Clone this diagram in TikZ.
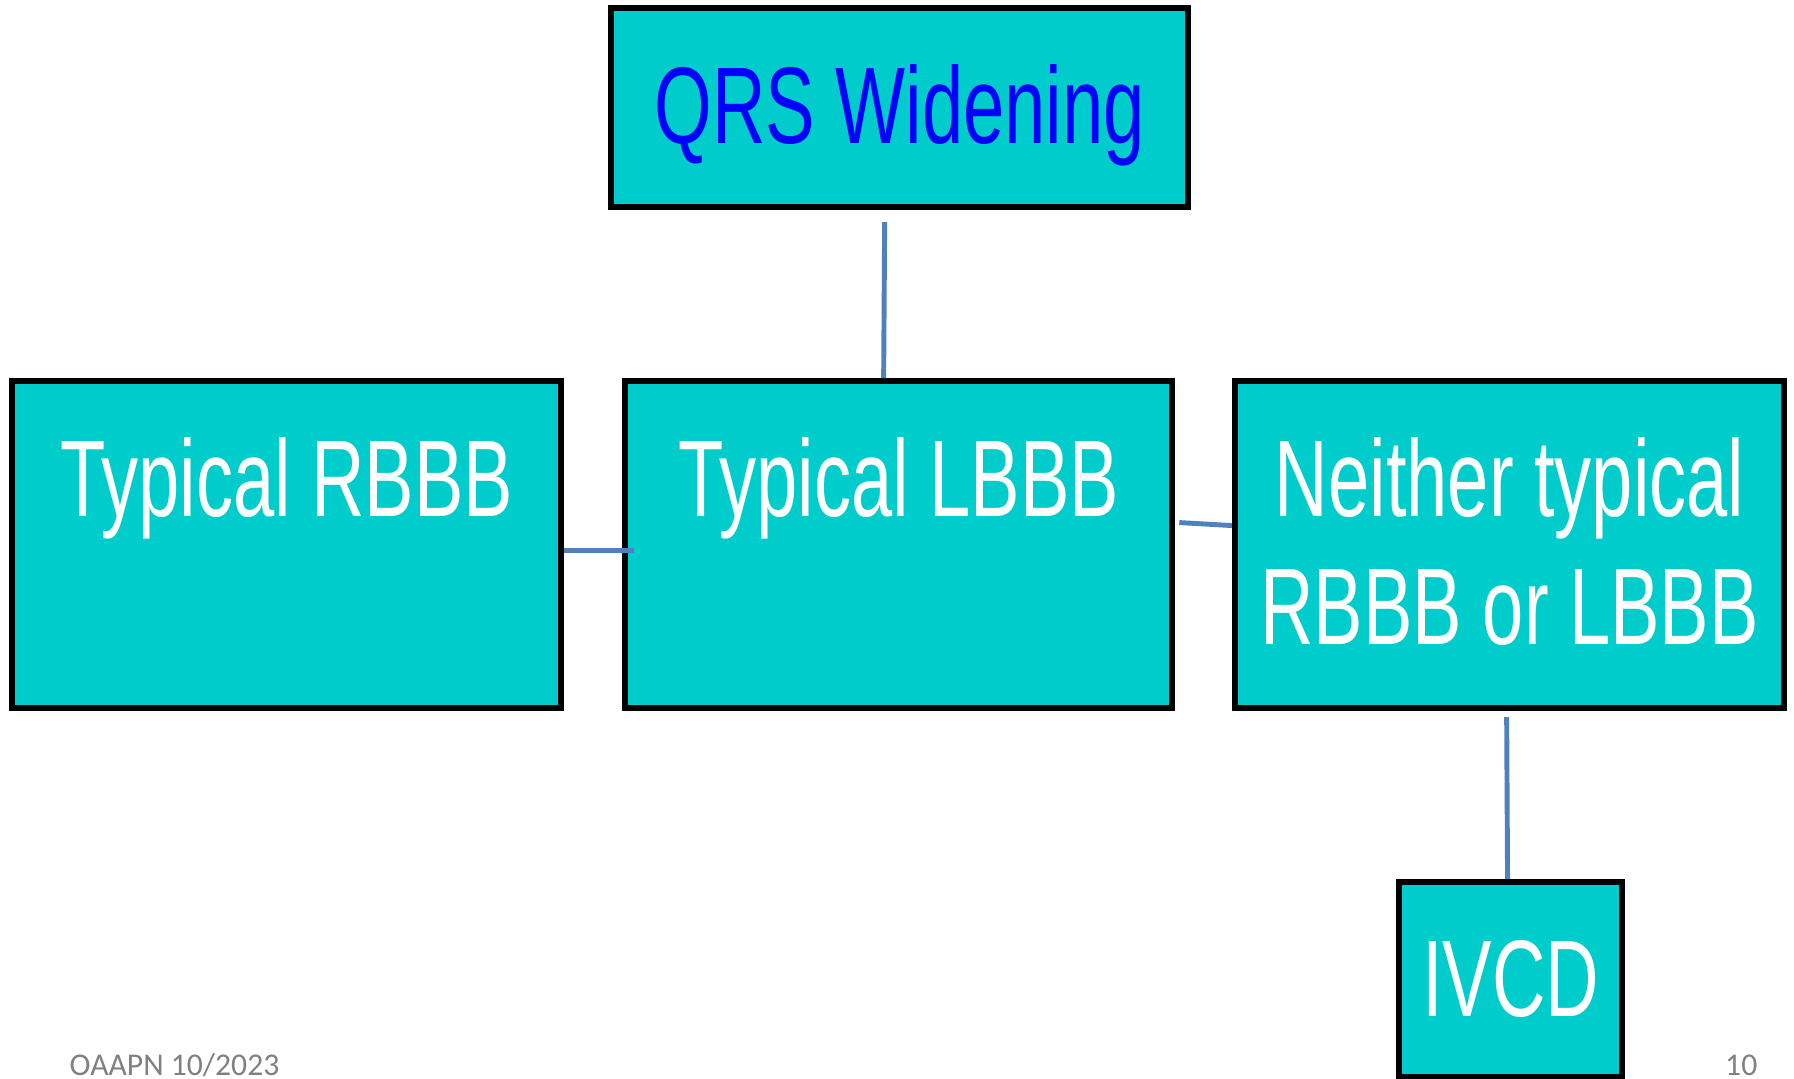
\documentclass[tikz,border=0pt]{standalone}
\usepackage{fontspec}
\setmainfont{Liberation Sans}[FakeStretch=0.68]
\newfontfamily\footfont{Carlito}
\definecolor{boxcyan}{RGB}{0,204,204}
\definecolor{qrsblue}{RGB}{0,0,255}
\definecolor{linkblue}{RGB}{79,129,189}
\definecolor{footgrey}{RGB}{128,128,128}

\begin{document}
\begin{tikzpicture}[x=0.01cm, y=-0.01cm,
    box/.style={draw, line width=1.7pt, fill=boxcyan, inner sep=0pt, anchor=north west,
        text=white, align=center, font=\fontsize{31}{36.4}\selectfont},
    link/.style={draw=linkblue, line width=1.4pt},
    foot/.style={text=footgrey, inner sep=0pt, font=\footfont\fontsize{9}{11}\selectfont}]
    \useasboundingbox (0, 0) rectangle (1794, 1079);

    \node[box, text=qrsblue, minimum width=5.77cm, text height=1.35cm, text depth=0.64cm]
    (qrs) at (608, 5) {QRS Widening};
    \node[box, minimum width=5.49cm, text height=1.35cm, text depth=1.92cm]
    (rbbb) at (9, 378) {Typical RBBB};
    \node[box, minimum width=5.47cm, text height=1.35cm, text depth=1.92cm]
    (lbbb) at (622, 378) {Typical LBBB};
    \node[box, minimum width=5.49cm, text height=2.63cm, text depth=0.64cm]
    (neither) at (1232, 378) {Neither typical\\RBBB or LBBB};
    \node[box, minimum width=2.23cm, text height=1.34cm, text depth=0.61cm]
    (ivcd) at (1396, 879) {IVCD};

    \draw[link] ([shift={(-0.15cm, -0.12cm)}]qrs.south) -- ([xshift=-0.15cm]lbbb.north);
    \draw[link] ([yshift=-0.055cm]rbbb.east) -- ([shift={(0.12cm, -0.055cm)}]lbbb.west);
    \draw[link] ([shift={(0.04cm, 0.22cm)}]lbbb.east) -- ([yshift=0.19cm]neither.west);
    \draw[link] ([shift={(-0.03cm, -0.06cm)}]neither.south) -- ([xshift=-0.03cm]ivcd.north);

    \node[foot, anchor=base west] (date) at (69, 1075) {OAAPN 10/2023};
    \node[foot, anchor=base east] (page) at (1758, 1075) {10};
\end{tikzpicture}
\end{document}
